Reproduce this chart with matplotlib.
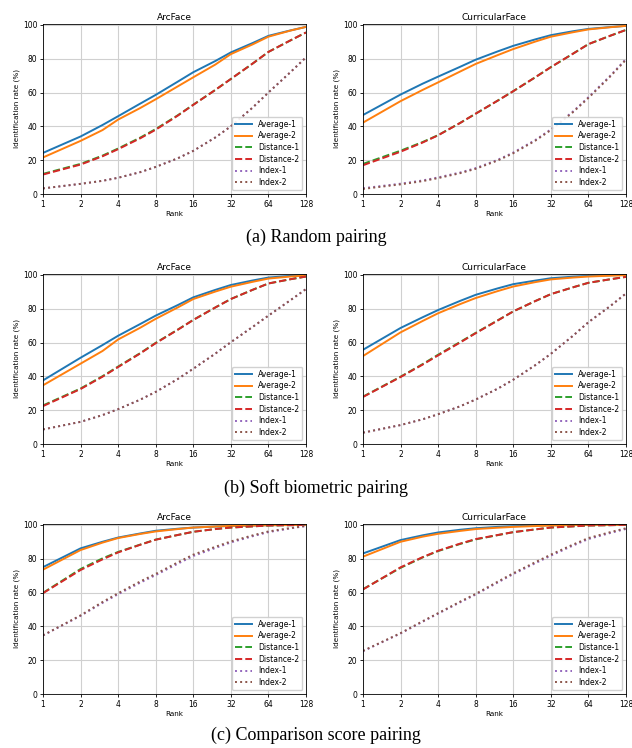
import numpy as np
import matplotlib
matplotlib.use('Agg')
import matplotlib.pyplot as plt

ranks = [1, 2, 3, 4, 6, 8, 12, 16, 24, 32, 48, 64, 96, 128]

series_names = ['Average-1', 'Average-2', 'Distance-1', 'Distance-2', 'Index-1', 'Index-2']
series_colors = ['tab:blue', 'tab:orange', 'tab:green', 'tab:red', 'tab:purple', 'tab:brown']
series_styles = ['-', '-', '--', '--', ':', ':']

# (a) Random pairing
rand_arc_avg1 = [24.3, 34.0, 40.8, 46.0, 53.4, 58.6, 66.4, 72.0, 78.6, 83.7, 89.3, 93.5, 96.7, 98.8]
rand_arc_avg2 = [21.6, 31.4, 37.8, 44.0, 50.8, 56.0, 63.6, 69.0, 76.5, 82.7, 88.5, 93.0, 96.6, 98.8]
rand_arc_dist1 = [11.9, 17.8, 22.7, 26.9, 33.3, 38.4, 46.5, 52.8, 61.5, 68.0, 77.2, 84.0, 90.8, 95.5]
rand_arc_dist2 = [11.5, 17.4, 22.3, 26.5, 32.9, 38.0, 46.3, 52.7, 61.5, 68.0, 77.2, 84.0, 90.8, 95.5]
rand_arc_idx1 = [3.3, 6.0, 7.8, 9.6, 12.9, 16.0, 21.1, 25.5, 33.4, 40.0, 51.2, 60.0, 72.0, 80.8]
rand_arc_idx2 = [3.3, 6.0, 7.8, 9.6, 12.9, 16.0, 21.1, 25.5, 33.4, 40.0, 51.2, 60.0, 72.0, 80.8]

rand_cur_avg1 = [46.7, 58.8, 65.2, 69.4, 75.2, 79.4, 84.3, 87.6, 91.4, 93.9, 96.2, 97.6, 98.7, 99.4]
rand_cur_avg2 = [42.2, 54.9, 61.5, 66.0, 72.4, 76.9, 82.1, 85.7, 90.1, 93.0, 95.6, 97.3, 98.6, 99.4]
rand_cur_dist1 = [17.8, 25.6, 30.7, 34.8, 42.0, 47.5, 55.2, 60.8, 69.0, 75.0, 82.9, 88.6, 93.6, 97.0]
rand_cur_dist2 = [17.0, 25.0, 30.4, 34.7, 42.0, 47.5, 55.2, 60.8, 69.0, 75.0, 82.9, 88.6, 93.6, 97.0]
rand_cur_idx1 = [3.4, 6.1, 8.0, 9.8, 12.7, 15.3, 20.2, 24.5, 31.9, 38.2, 48.7, 57.2, 70.0, 79.8]
rand_cur_idx2 = [3.0, 5.7, 7.6, 9.4, 12.3, 14.9, 19.8, 24.1, 31.5, 37.8, 48.3, 56.8, 69.6, 79.4]

# (b) Soft biometric pairing
soft_arc_avg1 = [37.6, 51.0, 58.5, 64.0, 70.9, 75.9, 82.1, 86.7, 91.1, 94.0, 96.7, 98.4, 99.4, 100.0]
soft_arc_avg2 = [34.7, 47.5, 55.0, 61.8, 68.7, 74.0, 80.7, 85.7, 90.1, 93.0, 95.9, 97.8, 99.0, 99.6]
soft_arc_dist1 = [22.8, 32.8, 40.1, 45.8, 53.7, 59.8, 67.6, 73.4, 80.7, 85.7, 91.2, 94.9, 97.4, 99.0]
soft_arc_dist2 = [22.4, 32.5, 39.8, 45.5, 53.5, 59.6, 67.5, 73.3, 80.7, 85.7, 91.2, 94.9, 97.4, 99.0]
soft_arc_idx1 = [8.6, 13.1, 17.1, 20.6, 26.2, 30.8, 38.4, 44.5, 53.4, 60.2, 69.3, 75.9, 85.0, 91.6]
soft_arc_idx2 = [8.6, 13.1, 17.1, 20.6, 26.2, 30.8, 38.4, 44.5, 53.4, 60.2, 69.3, 75.9, 85.0, 91.6]

soft_cur_avg1 = [55.7, 68.6, 74.9, 79.2, 84.6, 88.2, 92.0, 94.5, 96.6, 98.0, 98.9, 99.4, 99.8, 100.0]
soft_cur_avg2 = [52.0, 66.0, 72.7, 77.3, 82.7, 86.3, 90.4, 93.1, 95.7, 97.3, 98.4, 99.0, 99.5, 99.8]
soft_cur_dist1 = [28.0, 39.8, 47.2, 52.8, 60.3, 65.7, 73.1, 78.4, 84.5, 88.6, 92.6, 95.3, 97.4, 98.8]
soft_cur_dist2 = [27.8, 39.6, 46.9, 52.4, 60.0, 65.5, 73.0, 78.4, 84.5, 88.6, 92.6, 95.3, 97.4, 98.8]
soft_cur_idx1 = [6.7, 11.2, 14.6, 17.6, 22.3, 26.3, 32.7, 38.0, 46.6, 53.3, 63.9, 72.0, 81.6, 89.0]
soft_cur_idx2 = [6.7, 11.2, 14.6, 17.6, 22.3, 26.3, 32.7, 38.0, 46.6, 53.3, 63.9, 72.0, 81.6, 89.0]

# (c) Comparison score pairing
comp_arc_avg1 = [75.0, 86.1, 90.0, 92.5, 94.9, 96.5, 97.7, 98.4, 99.0, 99.4, 99.6, 99.8, 99.9, 100.0]
comp_arc_avg2 = [73.5, 85.1, 89.5, 92.2, 94.6, 96.1, 97.5, 98.4, 99.0, 99.4, 99.6, 99.8, 99.9, 100.0]
comp_arc_dist1 = [59.8, 73.9, 80.2, 84.0, 88.3, 91.3, 94.0, 95.9, 97.5, 98.4, 99.1, 99.6, 99.8, 100.0]
comp_arc_dist2 = [59.6, 73.3, 79.6, 83.7, 88.2, 91.2, 94.0, 95.9, 97.5, 98.4, 99.1, 99.6, 99.8, 100.0]
comp_arc_idx1 = [34.6, 46.2, 53.9, 59.0, 65.8, 70.3, 77.0, 81.6, 86.3, 89.6, 93.3, 95.7, 97.9, 99.3]
comp_arc_idx2 = [34.7, 46.5, 54.4, 59.6, 66.5, 71.0, 77.8, 82.4, 87.0, 90.2, 93.8, 96.1, 98.1, 99.4]

comp_cur_avg1 = [83.1, 91.0, 93.8, 95.5, 97.1, 98.0, 98.8, 99.2, 99.6, 99.8, 99.9, 100.0, 100.0, 100.0]
comp_cur_avg2 = [81.2, 90.0, 93.0, 94.7, 96.4, 97.5, 98.3, 98.8, 99.3, 99.6, 99.85, 100.0, 100.0, 100.0]
comp_cur_dist1 = [62.0, 74.6, 80.7, 84.5, 88.7, 91.4, 93.9, 95.7, 97.3, 98.4, 99.1, 99.6, 99.8, 100.0]
comp_cur_dist2 = [61.8, 74.9, 80.9, 84.7, 88.9, 91.6, 94.0, 95.7, 97.3, 98.4, 99.1, 99.6, 99.8, 100.0]
comp_cur_idx1 = [25.3, 35.8, 42.7, 47.5, 54.2, 58.8, 65.9, 70.9, 77.3, 81.8, 87.7, 91.6, 95.2, 97.6]
comp_cur_idx2 = [25.5, 36.0, 43.0, 47.8, 54.6, 59.2, 66.4, 71.4, 77.9, 82.4, 88.3, 92.2, 95.7, 98.0]

panels = [
    ('ArcFace', [rand_arc_avg1, rand_arc_avg2, rand_arc_dist1, rand_arc_dist2, rand_arc_idx1, rand_arc_idx2]),
    ('CurricularFace', [rand_cur_avg1, rand_cur_avg2, rand_cur_dist1, rand_cur_dist2, rand_cur_idx1, rand_cur_idx2]),
    ('ArcFace', [soft_arc_avg1, soft_arc_avg2, soft_arc_dist1, soft_arc_dist2, soft_arc_idx1, soft_arc_idx2]),
    ('CurricularFace', [soft_cur_avg1, soft_cur_avg2, soft_cur_dist1, soft_cur_dist2, soft_cur_idx1, soft_cur_idx2]),
    ('ArcFace', [comp_arc_avg1, comp_arc_avg2, comp_arc_dist1, comp_arc_dist2, comp_arc_idx1, comp_arc_idx2]),
    ('CurricularFace', [comp_cur_avg1, comp_cur_avg2, comp_cur_dist1, comp_cur_dist2, comp_cur_idx1, comp_cur_idx2]),
]
captions = ['(a) Random pairing', '(b) Soft biometric pairing', '(c) Comparison score pairing']
xticks = [1, 2, 4, 8, 16, 32, 64, 128]

fig = plt.figure(figsize=(6.32, 7.48), dpi=100)

lefts = [43 / 632, 363 / 632]
bottoms = [1 - 194 / 748, 1 - 444 / 748, 1 - 694 / 748]
w, h = 263 / 632, 170 / 748

for k, (title, data) in enumerate(panels):
    row, col = divmod(k, 2)
    ax = fig.add_axes([lefts[col], bottoms[row], w, h])
    for vals, name, c, ls in zip(data, series_names, series_colors, series_styles):
        ax.plot(ranks, vals, color=c, linestyle=ls, lw=1.4, label=name)
    ax.set_xscale('log', base=2)
    ax.set_xlim(1, 128)
    ax.set_ylim(0, 100.5)
    ax.set_xticks(xticks)
    ax.set_xticklabels([str(t) for t in xticks])
    ax.minorticks_off()
    ax.set_yticks([0, 20, 40, 60, 80, 100])
    ax.grid(True, color='#d0d0d0', lw=0.8)
    ax.tick_params(labelsize=5.5, length=2.5, width=0.6, pad=1.5)
    for s in ax.spines.values():
        s.set_linewidth(0.6)
    ax.set_title(title, fontsize=6.5, pad=3)
    ax.set_xlabel('Rank', fontsize=5.2, labelpad=1.5)
    ax.set_ylabel('Identification rate (%)', fontsize=5.2, labelpad=2)
    ax.legend(loc='lower right', fontsize=5.5, handlelength=2.2, borderpad=0.4,
              labelspacing=0.35, framealpha=0.9, fancybox=True)

cap_y = [1 - 237 / 748, 1 - 488 / 748, 1 - 735 / 748]
for cap, y in zip(captions, cap_y):
    fig.text(0.5, y, cap, ha='center', va='center', fontsize=13, family='Liberation Serif')

fig.savefig('out.png', dpi=100)
